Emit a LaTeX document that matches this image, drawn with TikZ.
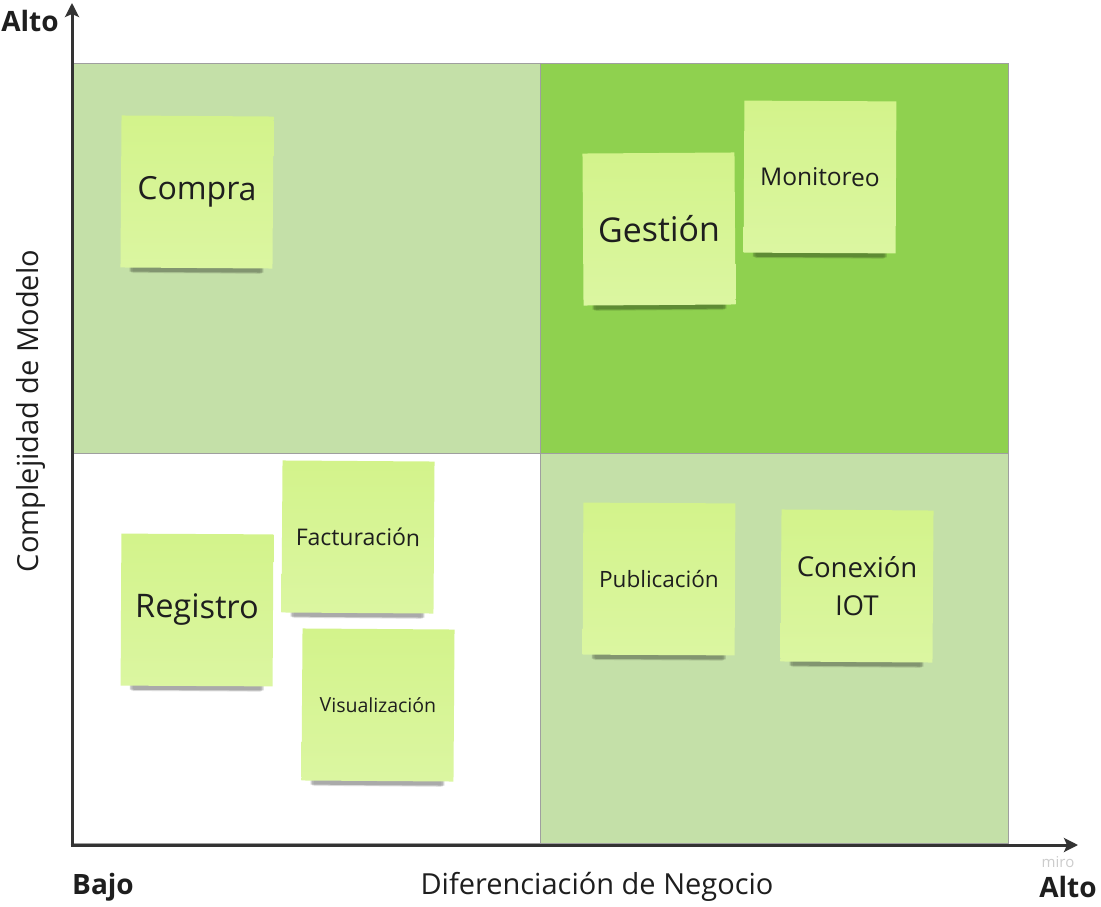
\documentclass[tikz,border=0pt]{standalone}
\usepackage{fontspec}
\setmainfont{Open Sans}
\usetikzlibrary{positioning}
\usetikzlibrary{arrows.meta}
\usetikzlibrary{shadows}
\definecolor{quadlight}{HTML}{C4E0A8}
\definecolor{quaddark}{HTML}{8FD14F}
\definecolor{notetop}{HTML}{D3F38B}
\definecolor{notebot}{HTML}{DBF6A1}
\definecolor{axisgray}{HTML}{333333}
\definecolor{ink}{HTML}{1E1E1E}
\tikzset{note/.style={shade, top color=notetop, bottom color=notebot, minimum width=152pt, minimum height=152pt, inner sep=0pt, align=center, text=ink,
    drop shadow={shadow xshift=0pt, shadow yshift=-21pt, shadow scale=0.84, opacity=0.07, fill=black},
    drop shadow={shadow xshift=0pt, shadow yshift=-18pt, shadow scale=0.86, opacity=0.12, fill=black},
    drop shadow={shadow xshift=0pt, shadow yshift=-15pt, shadow scale=0.88, opacity=0.18, fill=black}}}
\tikzset{quad/.style={draw=gray!75, line width=0.8pt}}
\tikzset{ax/.style={draw=axisgray, line width=3pt, -{Stealth[length=14pt,width=14pt,inset=3pt]}}}
\tikzset{lbl/.style={text=ink, inner sep=0pt}}

\begin{document}
\begin{tikzpicture}[x=1pt, y=-1pt]
    \useasboundingbox (0,0) rectangle (1101,907);
    \fill[white] (0,0) rectangle (1101,907);
    \fill[quadlight] (73,63) rectangle (540,453);
    \fill[quaddark] (540,63) rectangle (1008,453);
    \fill[quadlight] (540,453) rectangle (1008,843);
    \draw[quad] (73,63) rectangle (1008,843);
    \draw[quad] (540,63) -- (540,843);
    \draw[quad] (73,453) -- (1008,453);

    \coordinate (O) at (72,845);
    \coordinate (Ytop) at (72,3);
    \coordinate (Xend) at (1078,845);
    \draw[ax] (O) -- (Ytop);
    \draw[ax] ([xshift=-1.5pt]O) -- (Xend);

    \node[note, rotate=-0.4, font=\fontsize{32}{38}\selectfont] (Compra) at (197,192) {Compra};
    \node[note, rotate=0.4, font=\fontsize{34}{40}\selectfont] (Gestion) at (659,229) {Gestión};
    \node[note, rotate=-0.3, font=\fontsize{24.5}{30}\selectfont] (Monitoreo) at (820,177) {Monitoreo};
    \node[note, rotate=-0.4, font=\fontsize{23}{28}\selectfont] (Facturacion) at (358,537) {Facturación};
    \node[note, rotate=-0.3, font=\fontsize{32.5}{38}\selectfont] (Registro) at (197,610) {Registro};
    \node[note, rotate=-0.4, font=\fontsize{19.5}{24}\selectfont] (Visualizacion) at (378,705) {Visualización};
    \node[note, rotate=-0.3, font=\fontsize{22.5}{27}\selectfont] (Publicacion) at (659,579) {Publicación};
    \node[note, rotate=-0.4, font=\fontsize{27.5}{38}\selectfont] (Conexion) at (857,586) {Conexión\\IOT};

    \node[lbl, font=\fontsize{28}{32}\selectfont\bfseries] (AltoY) at (30,21) {Alto};
    \node[lbl, font=\fontsize{28}{32}\selectfont\bfseries] (Bajo) at (103,887) {Bajo};
    \node[lbl, font=\fontsize{28}{32}\selectfont\bfseries] (AltoX) at (1068,887) {Alto};
    \node[lbl, font=\fontsize{29}{34}\selectfont] (Dif) at (597,887) {Diferenciación de Negocio};
    \node[lbl, rotate=90, font=\fontsize{29}{34}\selectfont] (Comp) at (31,411) {Complejidad de Modelo};
    \node[text=gray!40, inner sep=0pt, font=\fontsize{15}{18}\selectfont] (miro) at (1058,862) {miro};
\end{tikzpicture}
\end{document}
